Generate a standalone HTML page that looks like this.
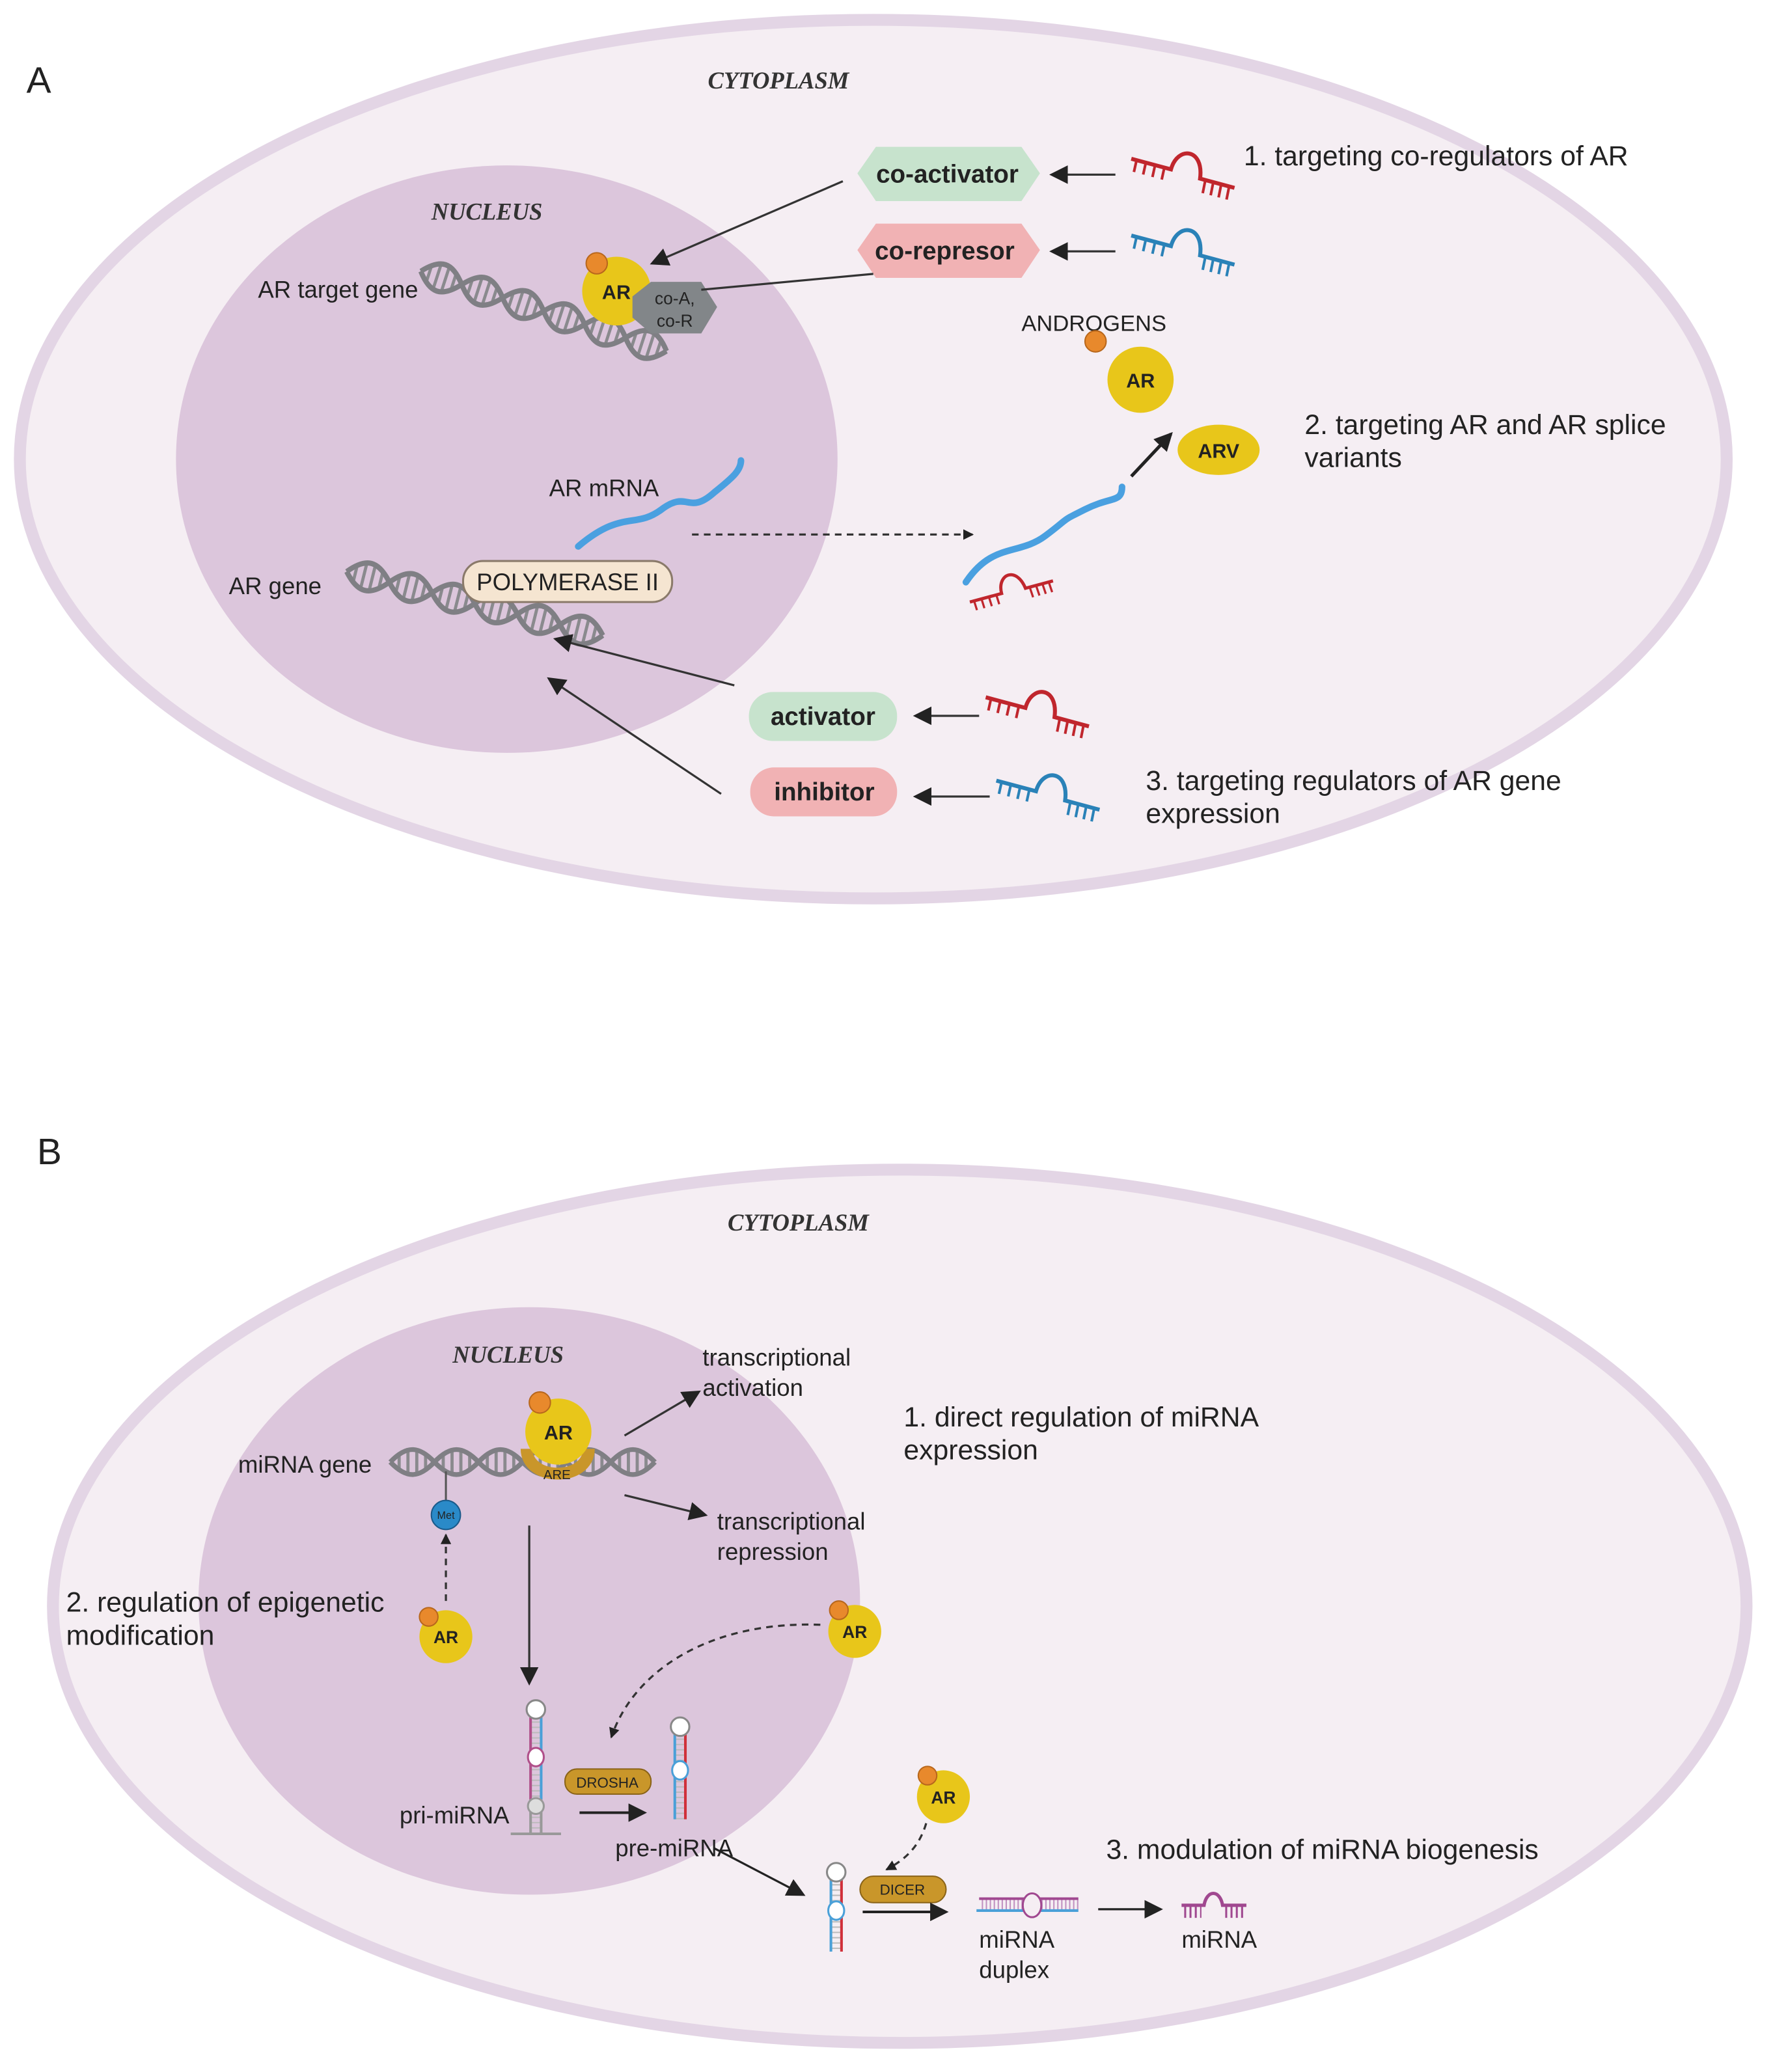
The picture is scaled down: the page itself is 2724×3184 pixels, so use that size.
<!DOCTYPE html>
<html><head><meta charset="utf-8">
<style>
html,body{margin:0;padding:0;background:#fff;}
svg{display:block;}
text{font-family:"Liberation Sans",sans-serif;fill:#222;}
.it{font-family:"Liberation Serif",serif;font-style:italic;font-weight:bold;fill:#333;}
</style></head><body>
<svg width="2724" height="3184" viewBox="0 0 1340 1566" preserveAspectRatio="none" xmlns="http://www.w3.org/2000/svg">
<defs>
<marker id="ah" markerWidth="8" markerHeight="8" refX="7" refY="4" orient="auto" markerUnits="userSpaceOnUse" viewBox="0 0 8 8"><path d="M0,0 L8,4 L0,8 z" fill="#222"/></marker>
<marker id="ahb" markerWidth="14" markerHeight="14" refX="12" refY="7" orient="auto" markerUnits="userSpaceOnUse" viewBox="0 0 14 14"><path d="M0,0 L14,7 L0,14 z" fill="#222"/></marker>
<g id="hx" fill="none">
<path d="M7,-6.5 v13 M14,-10.5 v21 M21,-10.5 v21 M28,-6.5 v13 M42,-6.5 v13 M49,-10.5 v21 M56,-10.5 v21 M63,-6.5 v13 M77,-6.5 v13 M84,-10.5 v21 M91,-10.5 v21 M98,-6.5 v13 M112,-6.5 v13 M119,-10.5 v21 M126,-10.5 v21 M133,-6.5 v13 M147,-6.5 v13 M154,-10.5 v21 M161,-10.5 v21 M168,-6.5 v13 M182,-6.5 v13 M189,-10.5 v21 M196,-10.5 v21 M203,-6.5 v13" stroke="#8a8a8e" stroke-width="2.5"/>
<path d="M0,0 C12.6,14 22.4,14 35,0 C47.6,-14 57.4,-14 70,0 C82.6,14 92.4,14 105,0 C117.6,-14 127.4,-14 140,0 C152.6,14 162.4,14 175,0 C187.6,-14 197.4,-14 210,0" stroke="#7f7f84" stroke-width="4"/>
<path d="M0,0 C12.6,-14 22.4,-14 35,0 C47.6,14 57.4,14 70,0 C82.6,-14 92.4,-14 105,0 C117.6,14 127.4,14 140,0 C152.6,-14 162.4,-14 175,0 C187.6,14 197.4,14 210,0" stroke="#7f7f84" stroke-width="4"/>
</g>
<g id="mr" fill="none">
<path d="M0,0 L30,8 C35,-10 55,-8 52,15 L78,22" stroke-width="3"/>
<path d="M4,1 L2,10 M11,2.9 L9,11.9 M18,4.8 L16,13.8 M25,6.7 L23,15.7 M56,16 L54,26 M62,17.6 L60,27.6 M68,19.2 L66,29.2 M74,20.8 L72,30.8" stroke-width="2"/>
</g>
</defs>
<rect width="1340" height="1566" fill="#fff"/>
<!-- Panel A -->
<ellipse cx="660" cy="347" rx="645" ry="332" fill="#f5eef3" stroke="#e3d5e5" stroke-width="9"/>
<ellipse cx="383" cy="347" rx="250" ry="222" fill="#dcc6dc"/>
<text x="20" y="70" font-size="28">A</text>
<text x="535" y="67" class="it" font-size="18">CYTOPLASM</text>
<text x="326" y="166" class="it" font-size="18">NUCLEUS</text>
<use href="#hx" transform="translate(318,205) rotate(18) scale(0.93,1)"/>
<text x="195" y="225" font-size="18">AR target gene</text>
<circle cx="466" cy="220" r="26" fill="#e8c61a"/>
<circle cx="451" cy="199" r="8" fill="#e8892c" stroke="#b8671c" stroke-width="1"/>
<text x="455" y="226" font-size="15" font-weight="bold">AR</text>
<polygon points="478,224 492,213 530,213 542,232 530,252 492,252 478,240" fill="#828689"/>
<text x="510" y="230" font-size="13" text-anchor="middle" fill="#222">co-A,</text>
<text x="510" y="247" font-size="13" text-anchor="middle" fill="#222">co-R</text>
<polygon points="648,131 662,111 772,111 786,131 772,152 662,152" fill="#c7e3cd"/>
<text x="716" y="138" font-size="19" font-weight="bold" text-anchor="middle">co-activator</text>
<polygon points="648,189 662,169 772,169 786,189 772,210 662,210" fill="#f1b2b4"/>
<text x="714" y="196" font-size="19" font-weight="bold" text-anchor="middle">co-represor</text>
<line x1="637" y1="137" x2="493" y2="199" stroke="#333" stroke-width="1.6" marker-end="url(#ahb)"/>
<line x1="660" y1="207" x2="530" y2="219" stroke="#333" stroke-width="1.6"/>
<line x1="843" y1="132" x2="795" y2="132" stroke="#333" stroke-width="1.6" marker-end="url(#ahb)"/>
<line x1="843" y1="190" x2="795" y2="190" stroke="#333" stroke-width="1.6" marker-end="url(#ahb)"/>
<use href="#mr" stroke="#c0262d" transform="translate(855,120)"/>
<use href="#mr" stroke="#2a82b8" transform="translate(855,178)"/>
<text x="940" y="125" font-size="21">1. targeting co-regulators of AR</text>
<text x="772" y="250" font-size="17">ANDROGENS</text>
<circle cx="828" cy="258" r="8" fill="#e8892c" stroke="#b8671c"/>
<circle cx="862" cy="287" r="25" fill="#e8c61a"/>
<text x="862" y="293" font-size="15" font-weight="bold" text-anchor="middle">AR</text>
<ellipse cx="921" cy="340" rx="31" ry="19" fill="#e8c61a"/>
<text x="921" y="346" font-size="15" font-weight="bold" text-anchor="middle">ARV</text>
<text x="986" y="328" font-size="21">2. targeting AR and AR splice</text>
<text x="986" y="353" font-size="21">variants</text>
<text x="415" y="375" font-size="18">AR mRNA</text>
<path d="M437,413 C470,385 480,400 500,385 C520,370 520,390 540,372 C555,360 560,355 560,348" fill="none" stroke="#4aa0e0" stroke-width="5" stroke-linecap="round"/>
<line x1="523" y1="404" x2="735" y2="404" stroke="#333" stroke-width="1.6" stroke-dasharray="5,4" marker-end="url(#ah)"/>
<path d="M730,440 C750,410 770,420 790,405 C810,390 800,395 820,385 C840,375 848,380 848,368" fill="none" stroke="#4aa0e0" stroke-width="5" stroke-linecap="round"/>
<use href="#mr" stroke="#c0262d" transform="translate(733,455) rotate(-30) scale(0.8)"/>
<line x1="855" y1="360" x2="885" y2="328" stroke="#222" stroke-width="2.5" marker-end="url(#ahb)"/>
<text x="173" y="449" font-size="18">AR gene</text>
<use href="#hx" transform="translate(262,432) rotate(14) scale(0.95,1)"/>
<rect x="350" y="424" width="158" height="31" rx="15" fill="#f5e5d1" stroke="#8a7a6a" stroke-width="1.5"/>
<text x="429" y="446" font-size="18" text-anchor="middle">POLYMERASE II</text>
<rect x="566" y="523" width="112" height="37" rx="18" fill="#c7e3cd"/>
<text x="622" y="548" font-size="19" font-weight="bold" text-anchor="middle">activator</text>
<rect x="567" y="580" width="111" height="37" rx="18" fill="#f1b2b4"/>
<text x="623" y="605" font-size="19" font-weight="bold" text-anchor="middle">inhibitor</text>
<line x1="740" y1="541" x2="692" y2="541" stroke="#333" stroke-width="1.6" marker-end="url(#ahb)"/>
<line x1="748" y1="602" x2="692" y2="602" stroke="#333" stroke-width="1.6" marker-end="url(#ahb)"/>
<use href="#mr" stroke="#c0262d" transform="translate(745,527)"/>
<use href="#mr" stroke="#2a82b8" transform="translate(753,590)"/>
<line x1="555" y1="518" x2="420" y2="483" stroke="#333" stroke-width="1.6" marker-end="url(#ahb)"/>
<line x1="545" y1="600" x2="415" y2="513" stroke="#333" stroke-width="1.6" marker-end="url(#ahb)"/>
<text x="866" y="597" font-size="21">3. targeting regulators of AR gene</text>
<text x="866" y="622" font-size="21">expression</text>
<!-- Panel B -->
<text x="28" y="880" font-size="28">B</text>
<ellipse cx="680" cy="1214" rx="640" ry="330" fill="#f5eef3" stroke="#e3d5e5" stroke-width="9"/>
<ellipse cx="400" cy="1210" rx="250" ry="222" fill="#dcc6dc"/>
<text x="550" y="930" class="it" font-size="18">CYTOPLASM</text>
<text x="342" y="1030" class="it" font-size="18">NUCLEUS</text>
<text x="180" y="1113" font-size="18">miRNA gene</text>
<use href="#hx" transform="translate(295,1105) scale(0.952,0.9)"/>
<path d="M398,1095 C398,1120 445,1120 445,1095" fill="none" stroke="#c9962a" stroke-width="9"/>
<circle cx="422" cy="1082" r="25" fill="#e8c61a"/>
<circle cx="408" cy="1060" r="8" fill="#e8892c" stroke="#b8671c"/>
<text x="422" y="1088" font-size="15" font-weight="bold" text-anchor="middle">AR</text>
<text x="421" y="1118" font-size="10" text-anchor="middle" fill="#6a4a10">ARE</text>
<line x1="472" y1="1085" x2="528" y2="1052" stroke="#333" stroke-width="1.6" marker-end="url(#ahb)"/>
<line x1="472" y1="1130" x2="533" y2="1145" stroke="#333" stroke-width="1.6" marker-end="url(#ahb)"/>
<text x="531" y="1032" font-size="18">transcriptional</text>
<text x="531" y="1055" font-size="18">activation</text>
<text x="542" y="1156" font-size="18">transcriptional</text>
<text x="542" y="1179" font-size="18">repression</text>
<text x="683" y="1078" font-size="21">1. direct regulation of miRNA</text>
<text x="683" y="1103" font-size="21">expression</text>
<line x1="337" y1="1112" x2="337" y2="1134" stroke="#555" stroke-width="1.5"/>
<circle cx="337" cy="1145" r="11" fill="#2a8ac8" stroke="#1a5a8a"/>
<text x="337" y="1148" font-size="8" fill="#fff" text-anchor="middle">Met</text>
<line x1="337" y1="1210" x2="337" y2="1160" stroke="#333" stroke-width="1.6" stroke-dasharray="5,4" marker-end="url(#ah)"/>
<circle cx="337" cy="1237" r="20" fill="#e8c61a"/>
<circle cx="324" cy="1222" r="7" fill="#e8892c" stroke="#b8671c"/>
<text x="337" y="1242" font-size="13" font-weight="bold" text-anchor="middle">AR</text>
<text x="50" y="1218" font-size="21">2. regulation of epigenetic</text>
<text x="50" y="1243" font-size="21">modification</text>
<circle cx="646" cy="1233" r="20" fill="#e8c61a"/>
<circle cx="634" cy="1217" r="7" fill="#e8892c" stroke="#b8671c"/>
<text x="646" y="1238" font-size="13" font-weight="bold" text-anchor="middle">AR</text>
<path d="M620,1228 C540,1225 480,1260 462,1313" fill="none" stroke="#333" stroke-width="1.6" stroke-dasharray="5,4" marker-end="url(#ah)"/>
<line x1="400" y1="1153" x2="400" y2="1272" stroke="#333" stroke-width="1.6" marker-end="url(#ahb)"/>
<!-- hairpins -->
<g fill="none">
<line x1="405" y1="1301" x2="405" y2="1385" stroke="#bbb" stroke-width="7" stroke-dasharray="1,3"/>
<line x1="401" y1="1298" x2="401" y2="1360" stroke="#b0508a" stroke-width="2"/>
<line x1="409" y1="1298" x2="409" y2="1360" stroke="#4aa0d8" stroke-width="2"/>
<line x1="401" y1="1360" x2="401" y2="1385" stroke="#999" stroke-width="2"/>
<line x1="409" y1="1360" x2="409" y2="1385" stroke="#999" stroke-width="2"/>
<circle cx="405" cy="1292" r="7" fill="#fff" stroke="#888" stroke-width="1.5"/>
<ellipse cx="405" cy="1328" rx="6" ry="7" fill="#fff" stroke="#b0508a" stroke-width="1.5"/>
<ellipse cx="405" cy="1365" rx="6" ry="6" fill="#ddd" stroke="#999" stroke-width="1.5"/>
<line x1="386" y1="1386" x2="424" y2="1386" stroke="#999" stroke-width="2"/>
<line x1="514" y1="1314" x2="514" y2="1375" stroke="#bbb" stroke-width="7" stroke-dasharray="1,3"/>
<line x1="510" y1="1311" x2="510" y2="1375" stroke="#4aa0d8" stroke-width="2"/>
<line x1="518" y1="1311" x2="518" y2="1375" stroke="#d0303a" stroke-width="2"/>
<circle cx="514" cy="1305" r="7" fill="#fff" stroke="#888" stroke-width="1.5"/>
<ellipse cx="514" cy="1338" rx="6" ry="7" fill="#fff" stroke="#4aa0d8" stroke-width="1.5"/>
<line x1="632" y1="1424" x2="632" y2="1475" stroke="#bbb" stroke-width="7" stroke-dasharray="1,3"/>
<line x1="628" y1="1421" x2="628" y2="1475" stroke="#4aa0d8" stroke-width="2"/>
<line x1="636" y1="1421" x2="636" y2="1475" stroke="#d0303a" stroke-width="2"/>
<circle cx="632" cy="1415" r="7" fill="#fff" stroke="#888" stroke-width="1.5"/>
<ellipse cx="632" cy="1444" rx="6" ry="7" fill="#fff" stroke="#4aa0d8" stroke-width="1.5"/>
</g>
<rect x="427" y="1337" width="65" height="19" rx="9" fill="#c9962a" stroke="#8a6318"/>
<text x="459" y="1351" font-size="11" text-anchor="middle" fill="#fff">DROSHA</text>
<line x1="438" y1="1370" x2="487" y2="1370" stroke="#222" stroke-width="2" marker-end="url(#ahb)"/>
<text x="302" y="1378" font-size="18">pri-miRNA</text>
<text x="465" y="1403" font-size="18">pre-miRNA</text>
<line x1="540" y1="1397" x2="607" y2="1432" stroke="#222" stroke-width="1.6" marker-end="url(#ahb)"/>
<rect x="650" y="1418" width="65" height="20" rx="10" fill="#c9962a" stroke="#8a6318"/>
<text x="682" y="1432" font-size="11" text-anchor="middle" fill="#fff">DICER</text>
<circle cx="713" cy="1358" r="20" fill="#e8c61a"/>
<circle cx="701" cy="1342" r="7" fill="#e8892c" stroke="#b8671c"/>
<text x="713" y="1363" font-size="13" font-weight="bold" text-anchor="middle">AR</text>
<path d="M700,1378 C695,1395 685,1405 670,1413" fill="none" stroke="#333" stroke-width="1.6" stroke-dasharray="5,4" marker-end="url(#ah)"/>
<line x1="652" y1="1445" x2="715" y2="1445" stroke="#222" stroke-width="2" marker-end="url(#ahb)"/>
<!-- duplex -->
<line x1="742" y1="1439.5" x2="815" y2="1439.5" stroke="#c090c0" stroke-width="8" stroke-dasharray="1,2"/>
<line x1="738" y1="1444" x2="815" y2="1444" stroke="#4aa0d8" stroke-width="2"/>
<line x1="740" y1="1435" x2="815" y2="1435" stroke="#a04890" stroke-width="2"/>
<ellipse cx="780" cy="1440" rx="7" ry="9" fill="#f5eef3" stroke="#a04890" stroke-width="1.5"/>
<text x="740" y="1472" font-size="18">miRNA</text>
<text x="740" y="1495" font-size="18">duplex</text>
<line x1="830" y1="1443" x2="877" y2="1443" stroke="#222" stroke-width="1.6" marker-end="url(#ahb)"/>
<line x1="895" y1="1445" x2="908" y2="1445" stroke="#a04890" stroke-width="9" stroke-dasharray="1.5,2.5"/>
<line x1="926" y1="1445" x2="942" y2="1445" stroke="#a04890" stroke-width="9" stroke-dasharray="1.5,2.5"/>
<path d="M893,1440 L910,1440 C912,1428 922,1428 924,1440 L942,1440" fill="none" stroke="#a04890" stroke-width="2.5"/>
<text x="893" y="1472" font-size="18">miRNA</text>
<text x="836" y="1405" font-size="21">3. modulation of miRNA biogenesis</text>
</svg>
</body></html>
